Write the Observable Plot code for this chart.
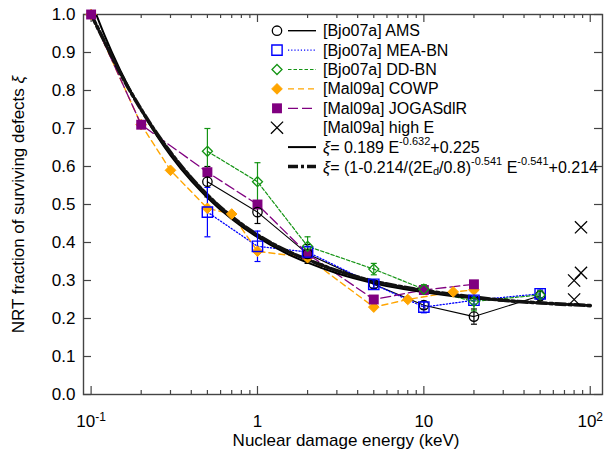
<!DOCTYPE html>
<html><head><meta charset="utf-8">
<script src="https://cdn.jsdelivr.net/npm/d3@7"></script>
<script src="https://cdn.jsdelivr.net/npm/@observablehq/plot@0.6"></script>
<style>body{margin:0;background:#fff;}</style>
</head><body><div id="chart"></div>
<script>
// ---- data ----
const amsE   = [0.5, 1, 2, 5, 10, 20, 50];
const amsXi  = [0.56, 0.48, 0.37, 0.29, 0.235, 0.205, 0.26];
const amsErr = [0.04, 0.03, 0.025, 0.01, 0.01, 0.02, 0.012];

const meaE   = [0.5, 1, 2, 5, 10, 20, 50];
const meaXi  = [0.48, 0.39, 0.375, 0.29, 0.23, 0.248, 0.265];
const meaErr = [0.065, 0.04, 0.015, 0.01, 0.015, 0.01, 0.01];

const ddE    = [0.5, 1, 2, 5, 10, 20, 50];
const ddXi   = [0.64, 0.56, 0.39, 0.33, 0.277, 0.245, 0.262];
const ddErr  = [0.06, 0.05, 0.025, 0.015, 0.012, 0.025, 0.01];

const cowpE  = [0.1, 0.2, 0.3, 0.5, 0.7, 1, 2, 5, 8, 15, 20];
const cowpXi = [1.0, 0.71, 0.59, 0.49, 0.475, 0.377, 0.36, 0.23, 0.25, 0.27, 0.275];

const jogE   = [0.1, 0.2, 0.5, 1, 2, 5, 10, 20];
const jogXi  = [1.0, 0.71, 0.585, 0.50, 0.37, 0.25, 0.275, 0.29];

const hiE    = [80, 80, 88, 88];
const hiXi   = [0.30, 0.25, 0.44, 0.32];

const fitE    = [0.1, 0.12, 0.15, 0.2, 0.25, 0.3, 0.4, 0.5, 0.7, 1, 1.5, 2, 3, 5, 7, 10, 20, 30, 50, 100];
const fit1Xi  = [1.035, 0.947, 0.852, 0.748, 0.679, 0.629, 0.562, 0.518, 0.462, 0.414, 0.371, 0.347, 0.319, 0.293, 0.280, 0.269, 0.253, 0.247, 0.241, 0.235];
const fit2Xi  = [1.0, 0.93, 0.845, 0.75, 0.685, 0.637, 0.57, 0.525, 0.468, 0.42, 0.378, 0.355, 0.326, 0.298, 0.285, 0.274, 0.256, 0.248, 0.241, 0.234];

const xTicks      = [0.1, 1, 10, 100];
const xTickLabels = ["10^-1", "1", "10", "10^2"];
const xMinor      = [0.2,0.3,0.4,0.5,0.6,0.7,0.8,0.9, 2,3,4,5,6,7,8,9, 20,30,40,50,60,70,80,90];
const yTicks      = [0, 0.1, 0.2, 0.3, 0.4, 0.5, 0.6, 0.7, 0.8, 0.9, 1.0];

const legendLabels = ["[Bjo07a] AMS", "[Bjo07a] MEA-BN", "[Bjo07a] DD-BN", "[Mal09a] COWP", "[Mal09a] JOGASdlR", "[Mal09a] high E"];

// ---- styling ----
const FONT = "'Liberation Sans', Arial, Helvetica, sans-serif";
const C = {ams: "#000000", mea: "#0000ff", dd: "#149414", cowp: "#ffa500", jog: "#800080", hi: "#000000"};
const frameColor = "#444";
const W = 609, H = 452, mL = 83, mR = 7, mT = 14, mB = 58;
const fw = W - mL - mR, fh = H - mT - mB;

const rows = (E, X, Er) => E.map((e, i) => ({e, xi: X[i], err: Er ? Er[i] : 0}));
const ams = rows(amsE, amsXi, amsErr), mea = rows(meaE, meaXi, meaErr), dd = rows(ddE, ddXi, ddErr);
const cowp = rows(cowpE, cowpXi), jog = rows(jogE, jogXi), hi = rows(hiE, hiXi);
const fit1 = rows(fitE, fit1Xi), fit2 = rows(fitE, fit2Xi);

const hcap = {draw(ctx, size) { const r = Math.sqrt(size / Math.PI); ctx.moveTo(-r, 0); ctx.lineTo(r, 0); }};

function errMarks(data, color) {
  return [
    Plot.ruleX(data, {x: "e", y1: d => d.xi - d.err, y2: d => d.xi + d.err, stroke: color, strokeWidth: 1.2}),
    Plot.dot(data, {x: "e", y: d => d.xi + d.err, symbol: hcap, r: 3, stroke: color, strokeWidth: 1.2}),
    Plot.dot(data, {x: "e", y: d => d.xi - d.err, symbol: hcap, r: 3, stroke: color, strokeWidth: 1.2})
  ];
}

const svg = Plot.plot({
  width: W, height: H,
  marginLeft: mL, marginRight: mR, marginTop: mT, marginBottom: mB,
  style: {fontFamily: FONT, background: "#fff", color: "#000"},
  x: {type: "log", domain: [0.09, 118.5]},
  y: {domain: [0, 1]},
  marks: [
    // ticks (inward, gnuplot style)
    Plot.tickX(xTicks, {insetTop: fh - 8, stroke: frameColor, strokeWidth: 1.2}),
    Plot.tickX(xTicks, {insetBottom: fh - 8, stroke: frameColor, strokeWidth: 1.2}),
    Plot.tickX(xMinor, {insetTop: fh - 4, stroke: frameColor, strokeWidth: 1.2}),
    Plot.tickX(xMinor, {insetBottom: fh - 4, stroke: frameColor, strokeWidth: 1.2}),
    Plot.tickY(yTicks, {insetRight: fw - 8, stroke: frameColor, strokeWidth: 1.2}),
    Plot.tickY(yTicks, {insetLeft: fw - 8, stroke: frameColor, strokeWidth: 1.2}),
    Plot.frame({stroke: frameColor, strokeWidth: 1.4}),
    Plot.axisX(xTicks, {tickSize: 0, tickPadding: 20, fontSize: 17, label: null,
      tickFormat: d => xTickLabels[xTicks.indexOf(d)]}),
    Plot.axisY(yTicks, {tickSize: 0, tickPadding: 8, fontSize: 17, label: null, tickFormat: d3.format(".1f")}),
    Plot.text(["Nuclear damage energy (keV)"], {frameAnchor: "bottom", lineAnchor: "middle", textAnchor: "middle", dy: 46, dx: 3, fontSize: 17}),
    Plot.text(["NRT fraction of surviving defects ξ"], {frameAnchor: "left", textAnchor: "middle", lineAnchor: "middle", rotate: -90, dx: -65, fontSize: 17}),
    // series lines
    Plot.line(ams, {x: "e", y: "xi", stroke: C.ams, strokeWidth: 1.1}),
    Plot.line(mea, {x: "e", y: "xi", stroke: C.mea, strokeWidth: 1.3, strokeDasharray: "1.2,2"}),
    Plot.line(dd, {x: "e", y: "xi", stroke: C.dd, strokeWidth: 1.2, strokeDasharray: "3.5,2"}),
    Plot.line(cowp, {x: "e", y: "xi", stroke: C.cowp, strokeWidth: 1.4, strokeDasharray: "6,4"}),
    Plot.line(jog, {x: "e", y: "xi", stroke: C.jog, strokeWidth: 1.3, strokeDasharray: "10,4"}),
    // fit curves
    Plot.line(fit1, {x: "e", y: "xi", stroke: "#000", strokeWidth: 2, curve: "monotone-x", clip: true}),
    Plot.line(fit2, {x: "e", y: "xi", stroke: "#111", strokeWidth: 3.6, strokeDasharray: "10,3,3,3", curve: "monotone-x", clip: true}),
    // error bars
    ...errMarks(ams, C.ams), ...errMarks(mea, C.mea), ...errMarks(dd, C.dd),
    // symbols
    Plot.dot(cowp, {x: "e", y: "xi", symbol: "diamond2", r: 4.8, fill: C.cowp, stroke: C.cowp, strokeWidth: 1}),
    Plot.dot(jog, {x: "e", y: "xi", symbol: "square", r: 5.6, fill: C.jog}),
    Plot.dot(ams, {x: "e", y: "xi", symbol: "circle", r: 4.7, fill: "none", stroke: C.ams, strokeWidth: 1.3}),
    Plot.dot(mea, {x: "e", y: "xi", symbol: "square", r: 5.8, fill: "none", stroke: C.mea, strokeWidth: 1.4}),
    Plot.dot(dd, {x: "e", y: "xi", symbol: "diamond2", r: 4.5, fill: "none", stroke: C.dd, strokeWidth: 1.3}),
    Plot.dot(hi, {x: "e", y: "xi", symbol: "times", r: 5.6, stroke: C.hi, strokeWidth: 1.3})
  ]
});

// superscripts in x tick labels, italic xi in y label
d3.select(svg).selectAll("text").each(function() {
  const t = this.textContent;
  if (t.includes("^")) {
    const [base, sup] = t.split("^");
    const s = d3.select(this);
    s.text(base);
    s.append("tspan").attr("dy", "-0.5em").attr("font-size", 12).text(sup);
  } else if (t.endsWith(" ξ")) {
    const s = d3.select(this);
    s.text(t.slice(0, -1));
    s.append("tspan").attr("font-style", "italic").text("ξ");
  }
});

// ---- legend ----
const lg = d3.select(svg).append("g").attr("font-family", FONT).attr("font-size", 16)
  .attr("fill", "#000").attr("text-anchor", "start");
const symX = 277, l1 = 288, l2 = 316, tx = 323, y0 = 30.7, dy = 19.4;
const symSize = r => Math.PI * r * r;
const legendSpec = [
  {type: d3.symbolCircle, r: 4.7, fill: "none", stroke: C.ams, sw: 1.3, line: {stroke: C.ams, w: 1.4, dash: null}},
  {type: d3.symbolSquare, r: 5.8, fill: "none", stroke: C.mea, sw: 1.4, line: {stroke: C.mea, w: 1.3, dash: "1.2,2"}},
  {type: d3.symbolDiamond2, r: 4.5, fill: "none", stroke: C.dd, sw: 1.3, line: {stroke: C.dd, w: 1.2, dash: "3.5,2"}},
  {type: d3.symbolDiamond2, r: 4.8, fill: C.cowp, stroke: C.cowp, sw: 1, line: {stroke: C.cowp, w: 1.4, dash: "6,4"}},
  {type: d3.symbolSquare, r: 5.6, fill: C.jog, stroke: "none", sw: 0, line: {stroke: C.jog, w: 1.3, dash: "10,4"}},
  {type: d3.symbolTimes, r: 5.6, fill: "none", stroke: C.hi, sw: 1.3, line: null}
];
legendSpec.forEach((s, i) => {
  const y = y0 + dy * i;
  lg.append("path").attr("transform", `translate(${symX},${y})`)
    .attr("d", d3.symbol().type(s.type).size(symSize(s.r))())
    .attr("fill", s.fill).attr("stroke", s.stroke).attr("stroke-width", s.sw);
  if (s.line) lg.append("line").attr("x1", l1).attr("x2", l2).attr("y1", y).attr("y2", y)
    .attr("stroke", s.line.stroke).attr("stroke-width", s.line.w).attr("stroke-dasharray", s.line.dash);
  lg.append("text").attr("x", tx).attr("y", y).attr("dominant-baseline", "central").text(legendLabels[i]);
});
function richText(y, segs) {
  const t = lg.append("text").attr("x", tx).attr("y", y).attr("dominant-baseline", "central");
  let shift = 0;
  segs.forEach(s => {
    const sp = t.append("tspan").text(s.t);
    let target = s.sup ? -6 : s.sub ? 4 : 0;
    if (target !== shift) { sp.attr("dy", target - shift); shift = target; }
    if (s.sup || s.sub) sp.attr("font-size", 11);
    if (s.it) sp.attr("font-style", "italic");
  });
}
const yA = y0 + dy * 6, yB = y0 + dy * 7;
lg.append("line").attr("x1", l1).attr("x2", l2).attr("y1", yA).attr("y2", yA).attr("stroke", "#000").attr("stroke-width", 2);
richText(yA, [{t: "ξ", it: true}, {t: "= 0.189 E"}, {t: "-0.632", sup: true}, {t: "+0.225"}]);
lg.append("line").attr("x1", l1).attr("x2", l2).attr("y1", yB).attr("y2", yB).attr("stroke", "#111").attr("stroke-width", 3.6).attr("stroke-dasharray", "10,3,3,3");
richText(yB, [{t: "ξ", it: true}, {t: "= (1-0.214/(2E"}, {t: "d", sub: true}, {t: "/0.8)"}, {t: "-0.541", sup: true}, {t: " E"}, {t: "-0.541", sup: true}, {t: "+0.214"}]);

document.getElementById("chart").appendChild(svg);
</script>
</body></html>
